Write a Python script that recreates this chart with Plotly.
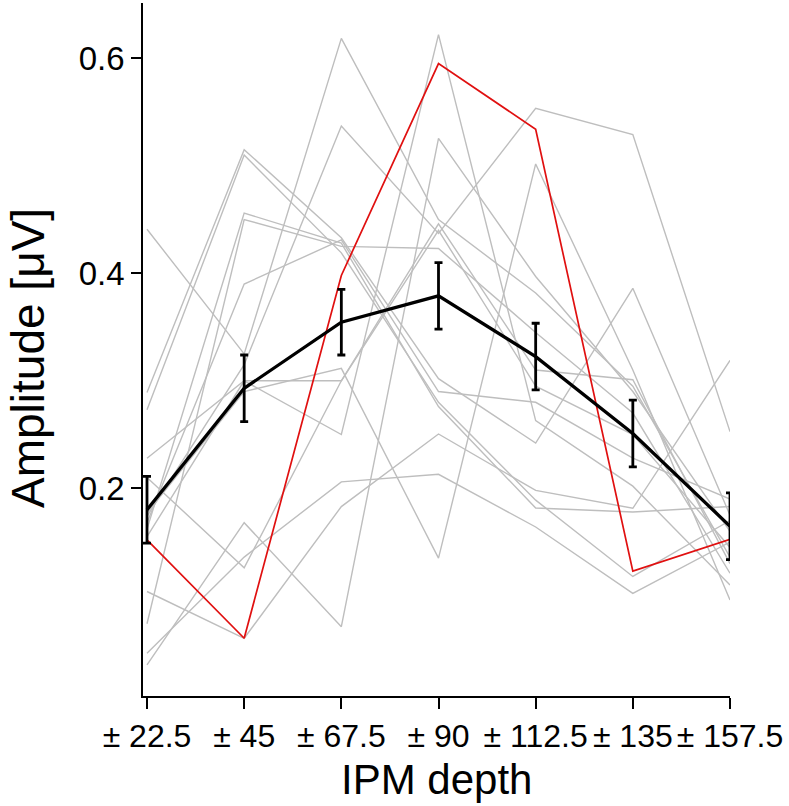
import plotly.graph_objects as go

# ---- data ----
depth_labels = ["± 22.5", "± 45", "± 67.5", "± 90", "± 112.5", "± 135", "± 157.5"]
depth_pos = [1, 2, 3, 4, 5, 6, 7]

subj_01 = [0.441, 0.325, 0.6185, 0.450, 0.3817, 0.295, 0.136]
subj_02 = [0.289, 0.515, 0.433, 0.302, 0.242, 0.386, 0.175]
subj_03 = [0.273, 0.510, 0.419, 0.280, 0.189, 0.118, 0.170]
subj_04 = [0.228, 0.300, 0.300, 0.446, 0.310, 0.301, 0.130]
subj_05 = [0.210, 0.126, 0.300, 0.440, 0.295, 0.250, 0.145]
subj_06 = [0.177, 0.290, 0.3116, 0.135, 0.5017, 0.310, 0.096]
subj_07 = [0.174, 0.315, 0.537, 0.437, 0.5535, 0.529, 0.2527]
subj_08 = [0.168, 0.390, 0.431, 0.290, 0.280, 0.228, 0.190]
subj_09 = [0.162, 0.456, 0.428, 0.276, 0.1817, 0.178, 0.183]
subj_10 = [0.155, 0.300, 0.250, 0.622, 0.263, 0.202, 0.110]
subj_11 = [0.104, 0.0605, 0.183, 0.2505, 0.198, 0.1814, 0.319]
subj_12 = [0.074, 0.450, 0.425, 0.423, 0.345, 0.270, 0.121]
subj_13 = [0.0465, 0.136, 0.206, 0.213, 0.164, 0.1023, 0.150]
subj_14 = [0.0357, 0.168, 0.0713, 0.5255, 0.397, 0.290, 0.160]

highlight_subj = [0.152, 0.0605, 0.398, 0.595, 0.534, 0.123, 0.1525]

mean_amp = [0.180, 0.293, 0.3545, 0.379, 0.3225, 0.251, 0.1647]
sem_amp = [0.031, 0.031, 0.0305, 0.031, 0.031, 0.031, 0.031]

y_tick_vals = [0.2, 0.4, 0.6]
y_tick_text = ["0.2", "0.4", "0.6"]

subjects = [subj_01, subj_02, subj_03, subj_04, subj_05, subj_06, subj_07,
            subj_08, subj_09, subj_10, subj_11, subj_12, subj_13, subj_14]

FONT = "Liberation Sans, Arial, Helvetica, sans-serif"

fig = go.Figure()
for s in subjects:
    fig.add_trace(go.Scatter(x=depth_pos, y=s, mode="lines",
                             line=dict(color="#BEBEBE", width=1.4),
                             showlegend=False, hoverinfo="skip"))

fig.add_trace(go.Scatter(x=depth_pos, y=highlight_subj, mode="lines",
                         line=dict(color="#E01010", width=1.7),
                         showlegend=False))

fig.add_trace(go.Scatter(x=depth_pos, y=mean_amp, mode="lines",
                         line=dict(color="black", width=3.3),
                         error_y=dict(type="data", array=sem_amp, visible=True,
                                      color="black", thickness=2.8, width=4),
                         cliponaxis=False, showlegend=False))

fig.update_layout(
    width=789, height=806,
    margin=dict(l=143, r=59, t=3, b=110, autoexpand=False),
    plot_bgcolor="white", paper_bgcolor="white",
    font=dict(family=FONT, color="black"),
    showlegend=False,
)

fig.update_xaxes(
    range=[0.9588, 7.0],
    tickmode="array", tickvals=depth_pos, ticktext=depth_labels,
    showline=True, linecolor="black", linewidth=1.6,
    ticks="outside", ticklen=11, tickwidth=2.2, tickcolor="black",
    tickfont=dict(size=32, family=FONT, color="black"),
    showgrid=False, zeroline=False, automargin=False,
)
fig.update_yaxes(
    range=[0.0068, 0.6514],
    tickmode="array", tickvals=y_tick_vals, ticktext=y_tick_text,
    showline=True, linecolor="black", linewidth=1.8,
    ticks="outside", ticklen=10, tickwidth=2.4, tickcolor="black",
    tickfont=dict(size=33, family=FONT, color="black"),
    showgrid=False, zeroline=False, automargin=False,
)

fig.add_annotation(text="IPM depth", xref="paper", yref="paper",
                   x=0.5, y=-0.121, xanchor="center", yanchor="middle",
                   showarrow=False, font=dict(size=42, family=FONT, color="black"))
fig.add_annotation(text="Amplitude [μV]", xref="paper", yref="paper",
                   x=-0.196, y=0.4877, xanchor="center", yanchor="middle",
                   textangle=-90, showarrow=False,
                   font=dict(size=46, family=FONT, color="black"))

fig.write_html("out.html",
               config={"displayModeBar": False},
               post_script="document.body.style.margin='0';document.body.style.overflow='hidden';")
